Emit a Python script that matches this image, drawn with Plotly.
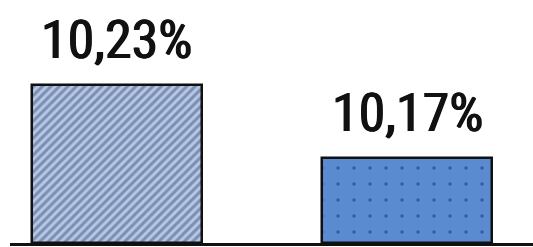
import plotly.graph_objects as go

categories = ["A", "B"]
values = [10.23, 10.17]
labels = ["10,23%", "10,17%"]
baseline = 10.10

fig = go.Figure()
fig.add_trace(go.Bar(
    x=[categories[0]], y=[values[0] - baseline], base=baseline,
    width=0.585,
    marker=dict(
        color="#b6c7e4",
        line=dict(color="#111111", width=2.5),
        pattern=dict(shape="/", fgcolor="#3f5480", bgcolor="#b6c7e4", size=6, solidity=0.5),
    ),
))
fig.add_trace(go.Bar(
    x=[categories[1]], y=[values[1] - baseline], base=baseline,
    width=0.585,
    marker=dict(
        color="#5a8ad0",
        line=dict(color="#111111", width=2.5),
        pattern=dict(shape=".", fgcolor="#1a2f66", bgcolor="#5a8ad0", size=16, solidity=0.04),
    ),
))

for c, v, t in zip(categories, values, labels):
    fig.add_annotation(x=c, y=v, text=t, showarrow=False, yanchor="bottom", yshift=12,
                       font=dict(family="Roboto Condensed, sans-serif", size=54, color="#111111",
                                 shadow="0.7px 0 0 #111111, -0.7px 0 0 #111111"))

fig.update_layout(
    width=533, height=247,
    margin=dict(l=10, r=0, t=0, b=4),
    paper_bgcolor="white", plot_bgcolor="white",
    showlegend=False,
    bargap=0,
    xaxis=dict(range=[-0.368, 1.432], showticklabels=False, showgrid=False, zeroline=False,
               showline=True, linecolor="#111111", linewidth=2.5, ticks=""),
    yaxis=dict(range=[baseline, 10.30], visible=False, showgrid=False, zeroline=False),
)

fig.write_html("out.html", config={"displayModeBar": False},
               post_script="document.body.style.margin='0';")
